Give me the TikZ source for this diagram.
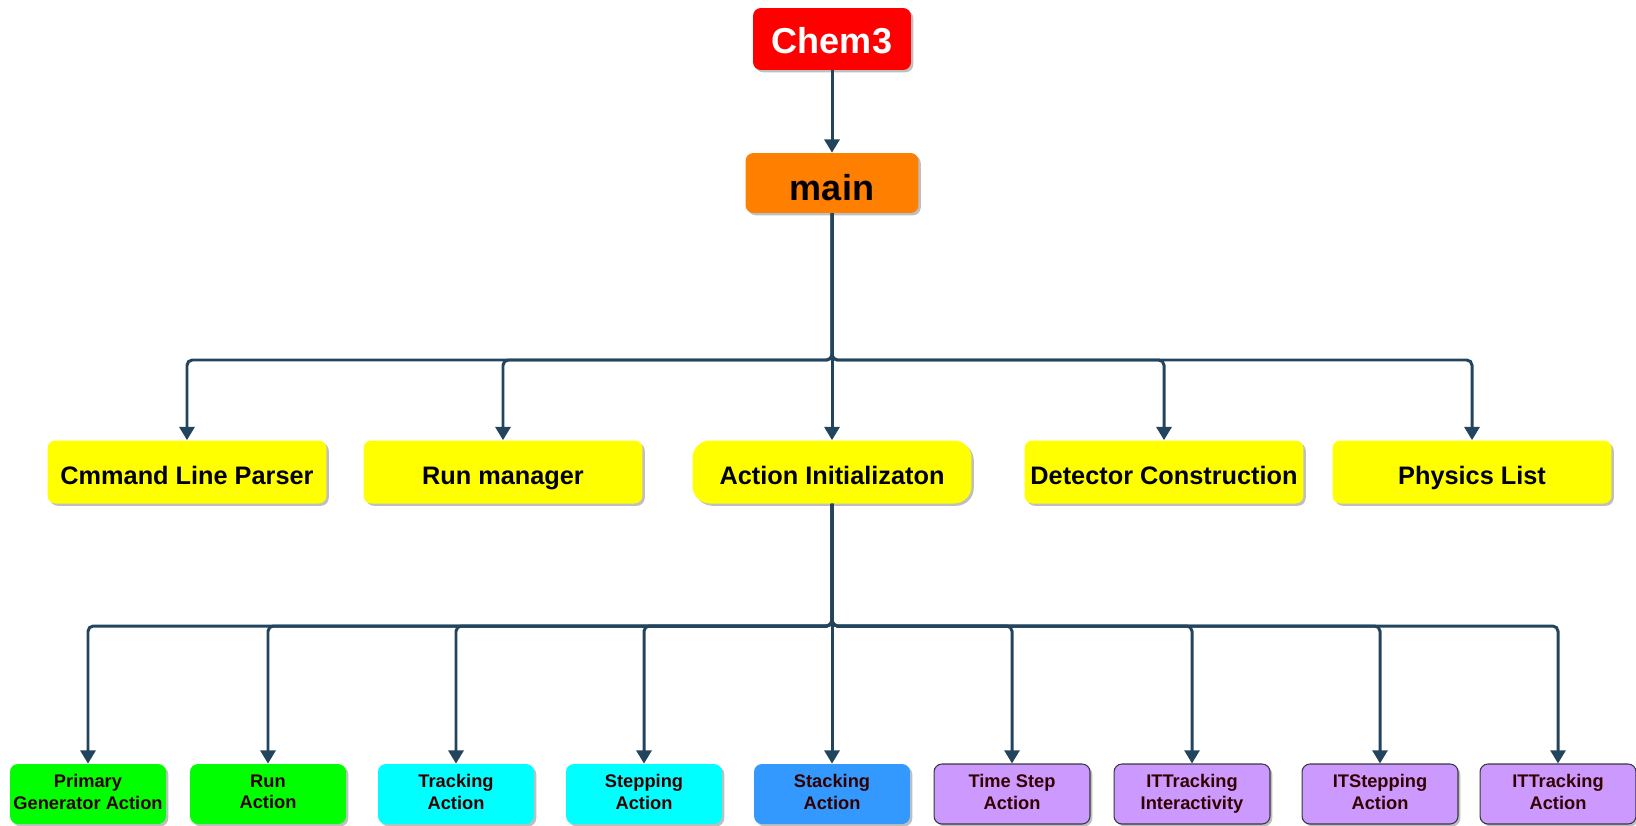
\documentclass[tikz,border=0pt]{standalone}
\usepackage{fontspec}
\setmainfont{Liberation Sans}
\usetikzlibrary{arrows.meta,shadows}

\definecolor{linkblue}{HTML}{23445D}
\definecolor{chemred}{HTML}{FF0000}
\definecolor{mainorange}{HTML}{FF8000}
\definecolor{partyellow}{HTML}{FFFF00}
\definecolor{actgreen}{HTML}{00FF00}
\definecolor{actcyan}{HTML}{00FFFF}
\definecolor{actblue}{HTML}{3399FF}
\definecolor{itpurple}{HTML}{CC99FF}
\definecolor{itborder}{HTML}{36393D}
\definecolor{smalltext}{HTML}{330000}

\begin{document}
\begin{tikzpicture}[
  x=0.02cm,
  y=-0.02cm,
  box/.style={
    rounded corners=4.5pt,
    inner sep=0pt,
    align=center,
    font=\bfseries,
    drop shadow={shadow xshift=1.3pt, shadow yshift=-1.3pt, opacity=0.25, fill=black},
  },
  topbox/.style={
    box,
    minimum width=3.16cm,
    minimum height=1.24cm,
    text height=20pt,
    text depth=3pt,
    font=\bfseries\fontsize{20.5}{24}\selectfont,
  },
  partbox/.style={
    box,
    fill=partyellow,
    minimum width=5.58cm,
    minimum height=1.26cm,
    text height=16pt,
    text depth=1.8pt,
    font=\bfseries\fontsize{14.4}{17}\selectfont,
  },
  actbox/.style={
    box,
    minimum width=3.12cm,
    minimum height=1.2cm,
    text=smalltext,
    execute at begin node={\rule{0pt}{16.8pt}},
    execute at end node={\rule[-2.6pt]{0pt}{2.6pt}},
    font=\bfseries\fontsize{10.4}{12.5}\selectfont,
  },
  itbox/.style={
    actbox,
    fill=itpurple,
    draw=itborder,
    line width=0.6pt,
  },
  link/.style={
    draw=linkblue,
    line width=1.7pt,
    rounded corners=3pt,
    -{Triangle[length=7.5pt,width=8.5pt]},
  },
]
\useasboundingbox (0,0) rectangle (1636,825);

% Top of the tree
\node[topbox, fill=chemred, text=white] (chem) at (832,39) {Chem3};
\node[topbox, fill=mainorange, minimum width=3.46cm, minimum height=1.2cm, text height=23.4pt] (main) at (832,183) {main};

% Parts built in main
\node[partbox] (cmd)  at (187,472)  {Cmmand Line Parser};
\node[partbox] (run)  at (503,472)  {Run manager};
\node[partbox, rounded corners=10pt] (init) at (832,472) {Action Initializaton};
\node[partbox] (det)  at (1164,472) {Detector Construction};
\node[partbox] (phys) at (1472,472) {Physics List};

% User actions
\node[actbox, fill=actgreen] (prim)  at (88,794)  {Primary\\Generator Action};
\node[actbox, fill=actgreen] (runact) at (268,794) {Run\\Action};
\node[actbox, fill=actcyan]  (track) at (456,794)  {Tracking\\Action};
\node[actbox, fill=actcyan]  (step)  at (644,794)  {Stepping\\Action};
\node[actbox, fill=actblue]  (stack) at (832,794)  {Stacking\\Action};
\node[itbox] (tstep)   at (1012,794) {Time Step\\Action};
\node[itbox] (itinter) at (1192,794) {ITTracking\\Interactivity};
\node[itbox] (itstep)  at (1380,794) {ITStepping\\Action};
\node[itbox] (ittrack) at (1558,794) {ITTracking\\Action};

\coordinate (bus1) at (832,360);
\coordinate (bus2) at (832,626);

\draw[link] (chem) -- (main);
\draw[link] (main) -- (init);
\foreach \part in {cmd,run,det,phys}
  \draw[link] (main.south) -- (main |- bus1) -| (\part.north);

\draw[link] (init) -- (stack);
\foreach \act in {prim,runact,track,step,tstep,itinter,itstep,ittrack}
  \draw[link] (init.south) -- (init |- bus2) -| (\act.north);

\end{tikzpicture}
\end{document}
